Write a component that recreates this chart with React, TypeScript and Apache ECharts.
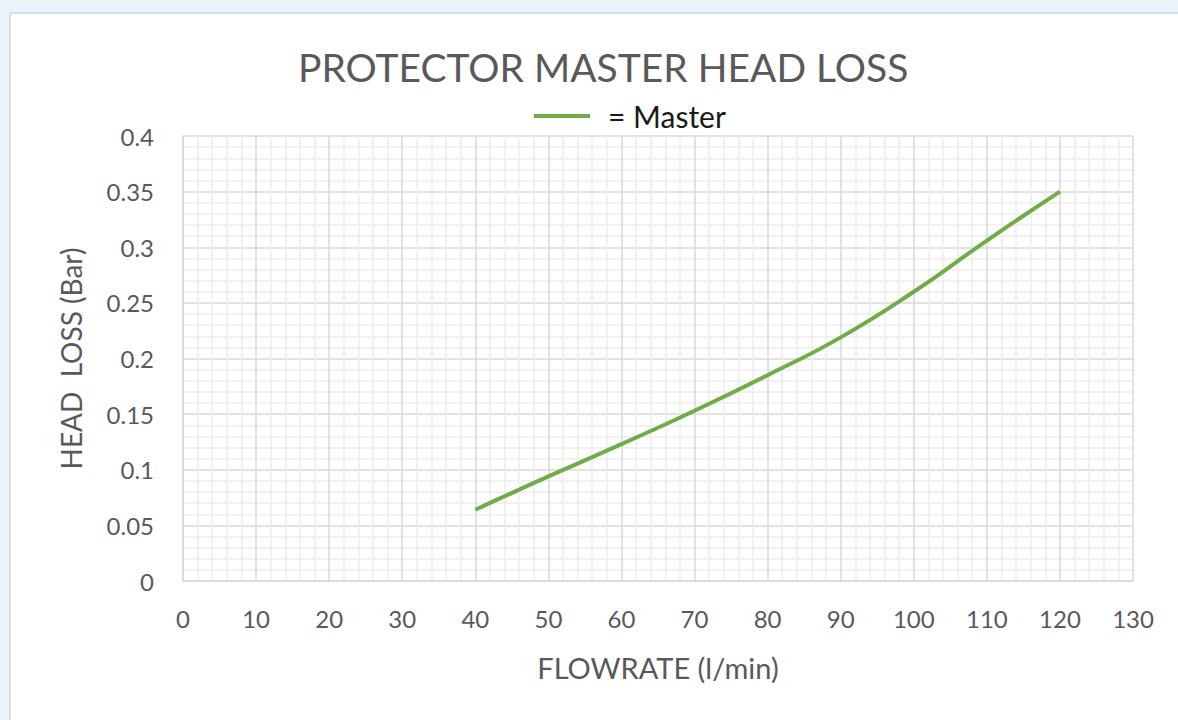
import React, { useEffect, useRef } from "react";
import * as echarts from "echarts";

const flowrate = [40, 50, 60, 70, 80, 90, 100, 110, 120];
const headLoss = [0.064, 0.094, 0.123, 0.153, 0.185, 0.219, 0.26, 0.306, 0.35];
const seriesName = "= Master";
const titleText = "PROTECTOR MASTER HEAD LOSS";
const xName = "FLOWRATE (l/min)";
const yName = "HEAD  LOSS (Bar)";

export default function App() {
  const ref = useRef<HTMLDivElement>(null);
  useEffect(() => {
    document.body.style.margin = "0";
    const chart = echarts.init(ref.current!, null, { renderer: "svg" });
    const font = "Lato, 'Open Sans', sans-serif";
    chart.setOption({
      animation: false,
      backgroundColor: "#e9f4fd",
      textStyle: { fontFamily: font },
      graphic: [
        {
          type: "rect",
          shape: { x: 10, y: 13, width: 1180, height: 720 },
          style: { fill: "#ffffff", stroke: "#d6d6d6", lineWidth: 1.5 },
          z: -10,
          silent: true,
        },
      ],
      title: {
        text: titleText,
        left: 293,
        top: 42,
        textStyle: { fontFamily: font, fontSize: 39, fontWeight: "normal", color: "#595959" },
      },
      legend: {
        top: 96,
        left: 529,
        itemWidth: 56,
        itemHeight: 4,
        textStyle: { fontFamily: font, fontSize: 30, color: "#1a1a1a", padding: [0, 0, 0, 13] },
        data: [{ name: seriesName, icon: "rect" }],
      },
      grid: { left: 183, right: 45, top: 136, bottom: 139, containLabel: false },
      xAxis: {
        type: "value",
        min: 0,
        max: 130,
        interval: 10,
        name: xName,
        nameLocation: "middle",
        nameGap: 72,
        nameTextStyle: { fontFamily: font, fontSize: 29, color: "#595959" },
        axisLine: { show: true, lineStyle: { color: "#d9d9d9", width: 1.5 } },
        axisTick: { show: false },
        axisLabel: { fontFamily: font, fontSize: 24, color: "#595959", margin: 25 },
        splitLine: { show: true, lineStyle: { color: "#d9d9d9", width: 1.5 } },
        minorTick: { show: false, splitNumber: 5 },
        minorSplitLine: { show: true, lineStyle: { color: "#ededed", width: 1.5 } },
      },
      yAxis: {
        type: "value",
        min: 0,
        max: 0.4,
        interval: 0.05,
        name: yName,
        nameLocation: "middle",
        nameGap: 98,
        nameTextStyle: { fontFamily: font, fontSize: 28, color: "#595959" },
        axisLine: { show: true, lineStyle: { color: "#d9d9d9", width: 1.5 } },
        axisTick: { show: false },
        axisLabel: { fontFamily: font, fontSize: 24, color: "#595959", margin: 29 },
        splitLine: { show: true, lineStyle: { color: "#d9d9d9", width: 1.5 } },
        minorTick: { show: false, splitNumber: 5 },
        minorSplitLine: { show: true, lineStyle: { color: "#ededed", width: 1.5 } },
      },
      series: [
        {
          name: seriesName,
          type: "line",
          smooth: true,
          showSymbol: false,
          symbol: "none",
          data: flowrate.map((x, i) => [x, headLoss[i]]),
          lineStyle: { color: "#70ad47", width: 4 },
          itemStyle: { color: "#70ad47" },
        },
      ],
    });
    return () => chart.dispose();
  }, []);
  return <div ref={ref} style={{ width: 1178, height: 720 }} />;
}
